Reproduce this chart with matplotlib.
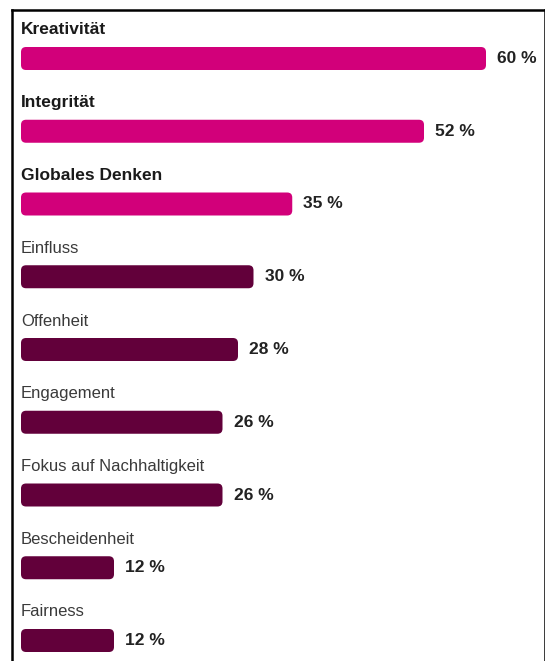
import matplotlib
matplotlib.use("Agg")
import matplotlib.pyplot as plt
from matplotlib.patches import FancyBboxPatch

categories = ["Kreativität", "Integrität", "Globales Denken", "Einfluss", "Offenheit",
              "Engagement", "Fokus auf Nachhaltigkeit", "Bescheidenheit", "Fairness"]
values = [60, 52, 35, 30, 28, 26, 26, 12, 12]
highlight = [True, True, True, False, False, False, False, False, False]

PINK = "#D2007A"
DARK = "#62003A"

W, H = 545, 661
fig = plt.figure(figsize=(W / 100, H / 100), dpi=100)
# axes spanning pixel box [12,545] x [10,661]
ax = fig.add_axes([12 / W, 0, (545 - 12) / W, (661 - 10) / H])
px_x = 7.75   # px per percent
px_y = 72.75  # px per category
ax.set_xlim((12 - 21) / px_x, (545 - 21) / px_x)
ax.set_ylim((661 - 58.5) / px_y, (10 - 58.5) / px_y)

bar_h = 23 / px_y
aspect = (1 / px_y) / (1 / px_x)
for i, (cat, v, hl) in enumerate(zip(categories, values, highlight)):
    color = PINK if hl else DARK
    p = FancyBboxPatch((0, i - bar_h / 2), v, bar_h,
                       boxstyle="round,pad=0,rounding_size=0.65",
                       mutation_aspect=aspect, facecolor=color, edgecolor="none")
    ax.add_patch(p)
    ax.text(0, i - 24 / px_y, cat, ha="left", va="baseline",
            fontsize=12.5 if hl else 12, fontweight="bold" if hl else "normal",
            color="#1a1a1a" if hl else "#3a3a3a", family="Liberation Sans")
    ax.annotate(f"{v} %", xy=(v, i), xytext=(8, 0), textcoords="offset points",
                ha="left", va="center", fontsize=12.5, fontweight="bold",
                color="#222222", family="Liberation Sans")

ax.set_xticks([])
ax.set_yticks([])
ax.spines["bottom"].set_visible(False)
for s in ["left", "top", "right"]:
    ax.spines[s].set_linewidth(1.8)
    ax.spines[s].set_color("black")

fig.savefig("out.png", dpi=100)
